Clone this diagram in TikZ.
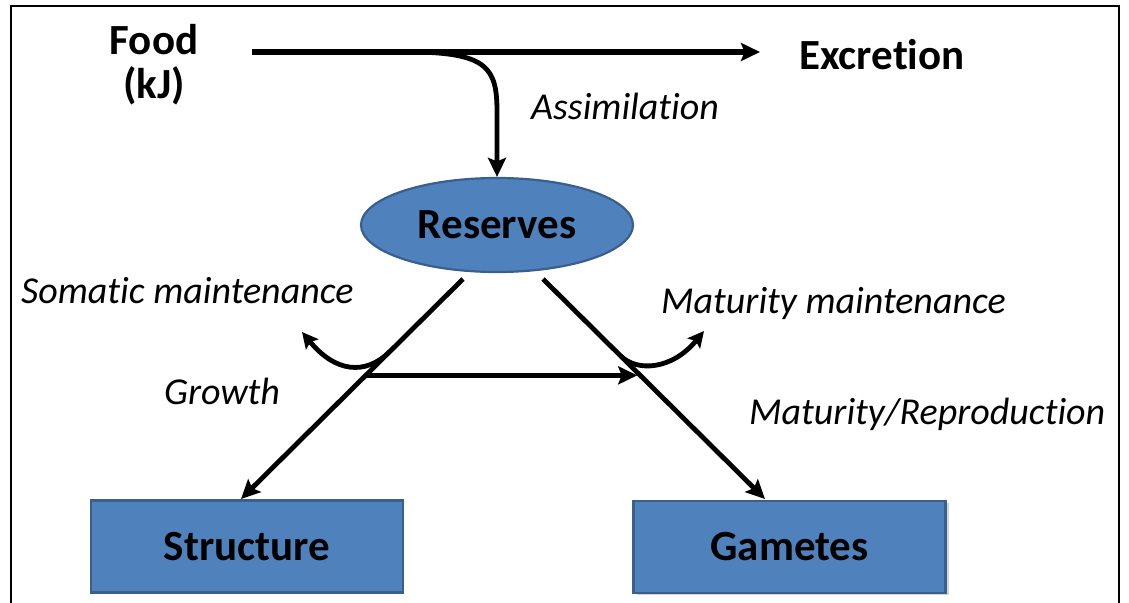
\documentclass[tikz,border=0pt]{standalone}
\usepackage{fontspec}
\setmainfont[Ligatures={NoCommon}]{Carlito}
\usetikzlibrary{arrows.meta,calc,shadows,shapes.geometric}
\definecolor{boxfill}{HTML}{4F81BD}
\definecolor{boxdraw}{HTML}{3A5F8C}
\begin{document}
\begin{tikzpicture}[x=1pt,y=-1pt,
  bigtxt/.style={font=\fontsize{43}{44}\selectfont\bfseries, inner sep=0pt},
  lbl/.style={font=\fontsize{38}{40}\selectfont\itshape, inner sep=0pt, anchor=west},
  flow/.style={line width=4.8pt, -{Stealth[length=19pt,width=18pt,inset=3.5pt]}},
  bluebox/.style={draw=boxdraw, fill=boxfill, line width=2.2pt, minimum width=312pt, minimum height=92pt, bigtxt, inner sep=0pt}
]
\useasboundingbox (0,0) rectangle (1129,602);
% frame
\draw[line width=2.5pt] (11,620) -- (11,6) -- (1119,6) -- (1119,620);

% nodes
\node[bigtxt, align=center] (food) at (154,65) {Food\\(kJ)};
\node[bigtxt, anchor=west] (excr) at (799,55) {Excretion};
\node[ellipse, draw=boxdraw, fill=boxfill, line width=2.2pt, minimum width=272pt, minimum height=94pt, bigtxt] (reserves) at (497,225) {Reserves};
\node[bluebox] (structure) at (247,546.5) {Structure};
\node[bluebox, drop shadow={opacity=0.35, shadow xshift=3pt, shadow yshift=-2pt}] (gametes) at (789.5,547) {Gametes};

% labels
\node[lbl] (assim) at (531,106) {Assimilation};
\node[lbl] (soma) at (21,291) {Somatic maintenance};
\node[lbl] (matm) at (661,303) {Maturity maintenance};
\node[lbl] (growth) at (164,391) {Growth};
\node[lbl] (matr) at (749,414) {Maturity/Reproduction};

% coordinates
\coordinate (fstart) at (252,52);
\coordinate (fend) at (760,52);
\coordinate (abranch) at (408,52);
\coordinate (r1) at (463,279);
\coordinate (s1) at (241,499);
\coordinate (r2) at (543,279);
\coordinate (g1) at (765,499);
\coordinate (gl) at ($(r1)!0.438!(s1)$);
\coordinate (gr) at ($(r2)!0.438!(g1)$);
\coordinate (sm0) at ($(r1)!0.33!(s1)$);
\coordinate (sm1) at (302,332);
\coordinate (mm0) at ($(r2)!0.35!(g1)$);
\coordinate (mm1) at (704,331);

% connectors
\draw[flow, line width=5.2pt] (fstart) -- (fend);
\draw[flow] (abranch) .. controls (488,52) and (497,68) .. (497,112) -- (reserves.north);
\draw[flow] (r1) -- (s1);
\draw[flow] (r2) -- (g1);
\draw[flow, shorten >=3pt] (gl) -- (gr);
\draw[flow, -{Stealth[length=16pt,width=16pt,inset=3pt]}] (sm0) .. controls (365,376) and (335,372) .. (sm1);
\draw[flow, -{Stealth[length=16pt,width=16pt,inset=3pt]}] (mm0) .. controls (637,372) and (672,370) .. (mm1);
\end{tikzpicture}
\end{document}
